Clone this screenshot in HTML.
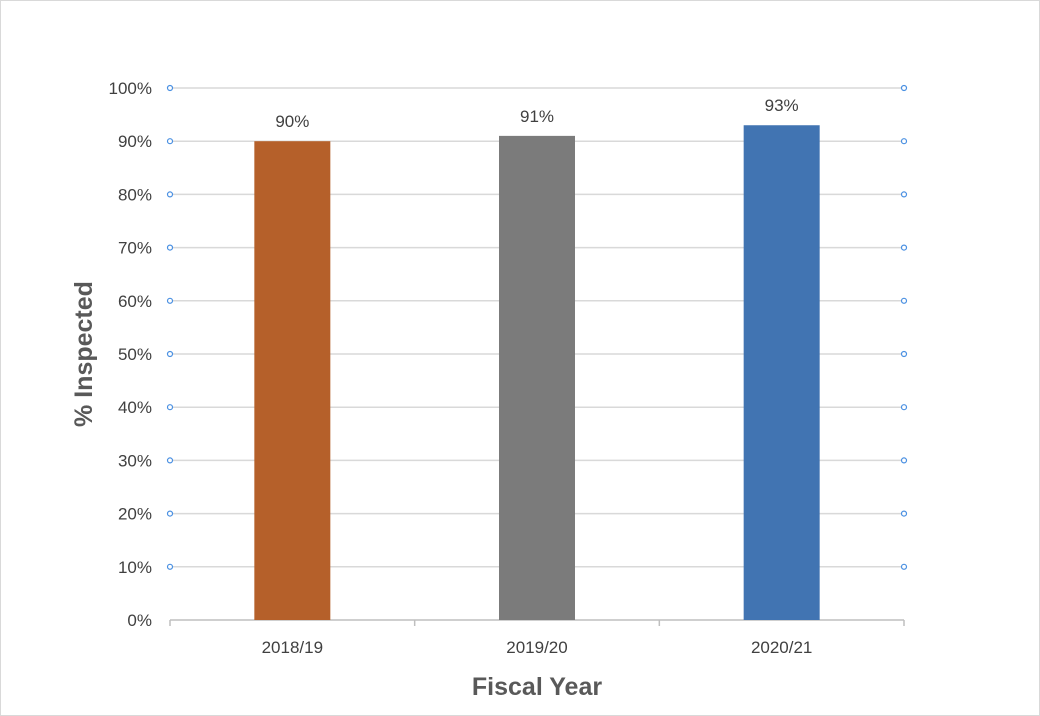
<!DOCTYPE html>
<html><head><meta charset="utf-8"><style>
html,body{margin:0;padding:0;background:#fff;}
svg{display:block;font-family:"Liberation Sans",Arial,sans-serif;}
</style></head><body>
<svg id="chart" width="1040" height="716" xmlns="http://www.w3.org/2000/svg">
<rect x="0.5" y="0.5" width="1039" height="715" fill="#fff" stroke="#d9d9d9"/>
<g id="grid"></g><g id="bars"></g><g id="labels"></g>
<text x="92" y="354" transform="rotate(-90 92 354)" text-anchor="middle" font-size="25" font-weight="bold" fill="#595959">% Inspected</text>
<text x="537" y="695" text-anchor="middle" font-size="25" font-weight="bold" fill="#595959">Fiscal Year</text>
</svg>
<script>
const categories = ["2018/19","2019/20","2020/21"];
const values = [90,91,93];
const valueLabels = ["90%","91%","93%"];
const yTicks = [0,10,20,30,40,50,60,70,80,90,100];
const colors = ["#b5602a","#7b7b7b","#4174b2"];
const NS="http://www.w3.org/2000/svg";
const L=170,R=904,T=88,B=620;
const y=v=>B-(v/100)*(B-T);
const bw=(R-L)/categories.length;
const x=i=>L+bw*(i+0.5);
function mk(tag,attrs,parent,text){const e=document.createElementNS(NS,tag);for(const k in attrs)e.setAttribute(k,attrs[k]);if(text!==undefined)e.textContent=text;parent.appendChild(e);return e;}
const grid=document.getElementById('grid'),bars=document.getElementById('bars'),labels=document.getElementById('labels');
yTicks.forEach(t=>{
  const yy=y(t);
  const ln=mk('line',{x1:L,x2:R,y1:yy,y2:yy,stroke:t===0?'#bfbfbf':'#d9d9d9','stroke-width':1.5},grid);
  
  
  const tx=mk('text',{x:152,y:yy+6,'text-anchor':'end','font-size':17,fill:'#404040'},labels,t+'%');
  
  
  if(t>0){[L,R].forEach(cx=>{
    const c=mk('circle',{cx:cx,cy:yy,r:2.5,fill:'#fff',stroke:'#4a90e2','stroke-width':1.2},grid);
    
    
  });}
});
for(let i=0;i<=categories.length;i++){
  const tk=mk('line',{x1:L+bw*i,x2:L+bw*i,y1:B,y2:B+6,stroke:'#bfbfbf','stroke-width':1.5},grid);
  
  
}
categories.forEach((c,i)=>{
  const b=mk('rect',{x:x(i)-38,y:y(values[i]),width:76,height:B-y(values[i]),fill:colors[i]},bars);
  
  
  const vl=mk('text',{x:x(i),y:y(values[i])-14,'text-anchor':'middle','font-size':17,fill:'#404040'},labels,valueLabels[i]);
  
  
  const cl=mk('text',{x:x(i),y:653,'text-anchor':'middle','font-size':17,fill:'#404040'},labels,c);
  
  
});
</script>
</body></html>
